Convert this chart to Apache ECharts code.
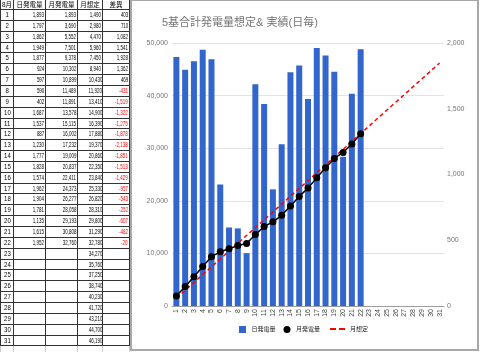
<!DOCTYPE html>
<html><head><meta charset="utf-8">
<script src="https://cdn.jsdelivr.net/npm/echarts@6/dist/echarts.min.js"></script>
<style>
html,body{margin:0;padding:0;background:#fff;}
#chart{position:absolute;left:0;top:0;width:480px;height:352px;}
#tbl{position:absolute;left:0;top:0;width:131px;height:352px;font-family:'Liberation Sans','Noto Sans CJK JP',sans-serif;}
.c{position:absolute;box-sizing:border-box;border-right:1px solid #333;border-bottom:1px solid #333;white-space:nowrap;overflow:hidden;color:#000;}
.c span{display:inline-block;}
</style></head>
<body>
<div id="chart"></div>
<div id="tbl"></div>
<script>
// ---- data ----
const dayLabels = ['1','2','3','4','5','6','7','8','9','10','11','12','13','14','15','16','17','18','19','20','21','22','23','24','25','26','27','28','29','30','31'];
const daily = [1893,1797,1862,1949,1877,924,597,590,402,1687,1537,887,1230,1777,1828,1574,1962,1904,1781,1135,1615,1952];
const cumulative = [1893,3690,5552,7501,9378,10302,10899,11489,11891,13578,15115,16002,17232,19009,20837,22411,24373,26277,28058,29193,30808,32760];
const plan = [1490,2980,4470,5960,7450,8940,10430,11920,13410,14900,16390,17880,19370,20860,22350,23840,25330,26820,28310,29800,31290,32780,34270,35760,37250,38740,40230,41720,43210,44700,46190];
const diff = [403,710,1082,1541,1928,1362,469,-431,-1519,-1322,-1275,-1878,-2138,-1851,-1513,-1429,-957,-543,-252,-607,-482,-20];
const tableHeaders = ['8月','日発電量','月発電量','月想定','差異'];
const seriesNames = ['日発電量','月発電量','月想定'];
const leftTicks = {min:0,max:50000,interval:10000};
const rightTicks = {min:0,max:2000,interval:500};
const titleText = '5基合計発電量想定& 実績(日毎)';

// ---- table ----
const colX=[0,14,46,78,103,130];
const rowTop = r => r===0 ? 0 : Math.round(10 + (r-1)*10.85);
const fmt = v => (v===undefined||v===null) ? '' : v.toLocaleString('en-US');
const tbl = document.getElementById('tbl');
let html='';
function addCell(c, r, text, opts){
  const top=rowTop(r), h=rowTop(r+1)-top;
  const left=colX[c], w=colX[c+1]-colX[c];
  let st=`left:${left}px;top:${top}px;width:${w}px;height:${h}px;line-height:${h-1}px;`;
  if(c===0) st+='border-left:1px solid #333;';
  st+= opts.style||'';
  html+=`<div class="c" style="${st}"><span style="${opts.span||''}">${text}</span></div>`;
}
const numSpan='transform:scaleX(0.56);transform-origin:100% 50%;';
const numStyle='text-align:right;padding-right:1px;font-size:8px;';
for(let c=0;c<5;c++){
  addCell(c,0,tableHeaders[c],{style:'text-align:center;font-size:6.5px;',span:''});
}
for(let i=0;i<31;i++){
  const r=i+1;
  addCell(0,r,dayLabels[i],{style:'text-align:center;font-size:8px;',span:'transform:scaleX(0.75);'});
  addCell(1,r,fmt(daily[i]),{style:numStyle,span:numSpan});
  addCell(2,r,fmt(cumulative[i]),{style:numStyle,span:numSpan});
  addCell(3,r,fmt(plan[i]),{style:numStyle,span:numSpan});
  const d=diff[i];
  addCell(4,r,fmt(d),{style:numStyle+(d<0?'color:#ff0000;':''),span:numSpan});
}
// faint gridlines below the table
{
  const top=rowTop(32);
  for(let c=0;c<5;c++){
    html+=`<div style="position:absolute;left:${colX[c]}px;top:${top}px;width:${colX[c+1]-colX[c]}px;height:${352-top}px;box-sizing:border-box;border-right:1px solid #ccc;${c===0?'border-left:1px solid #ccc;':''}"></div>`;
  }
}
tbl.innerHTML=html;

// ---- chart ----
const FF="'Liberation Sans','Noto Sans CJK JP',sans-serif";
const chart = echarts.init(document.getElementById('chart'),null,{renderer:'canvas'});
const numFmt = v => Number(v).toLocaleString('en-US');
chart.setOption({
  animation:false,
  textStyle:{fontFamily:FF},
  graphic:[{type:'rect',shape:{x:131,y:0,width:347,height:350},style:{fill:'none',stroke:'#a8a8a8',lineWidth:2},z:-1}],
  title:{text:titleText,left:162,top:17,padding:0,textStyle:{fontSize:11,fontWeight:'normal',color:'#757575',fontFamily:FF}},
  legend:[
    {left:239,top:326,padding:0,itemWidth:8,itemHeight:7,itemGap:8,symbolKeepAspect:true,
     textStyle:{fontSize:6,color:'#222',fontFamily:FF},
     data:[{name:seriesNames[0],icon:'path://M0,0H10V10H0Z'},{name:seriesNames[1],icon:'circle'}]},
    {left:330,top:326,padding:0,itemWidth:15,itemHeight:7,symbolKeepAspect:true,
     textStyle:{fontSize:6,color:'#222',fontFamily:FF},
     data:[{name:seriesNames[2],icon:'path://M0,0H6V2H0Z M9,0H15V2H9Z'}]}
  ],
  grid:{left:172,right:36,top:43,bottom:46},
  xAxis:{type:'category',data:dayLabels,
    axisTick:{show:false},
    axisLine:{lineStyle:{color:'#9e9e9e',width:1}},
    axisLabel:{rotate:90,fontSize:7,color:'#444',margin:3,interval:0}},
  yAxis:[
    {type:'value',min:leftTicks.min,max:leftTicks.max,interval:leftTicks.interval,
     axisLine:{show:false},axisTick:{show:false},
     axisLabel:{fontSize:7,color:'#757575',margin:4,formatter:numFmt},
     splitLine:{lineStyle:{color:'#e3e3e3'}}},
    {type:'value',min:rightTicks.min,max:rightTicks.max,interval:rightTicks.interval,position:'right',
     axisLine:{show:false},axisTick:{show:false},
     axisLabel:{fontSize:7,color:'#757575',margin:3,formatter:numFmt},
     splitLine:{show:false}}
  ],
  series:[
    {name:seriesNames[0],type:'bar',yAxisIndex:1,data:daily,barWidth:6,itemStyle:{color:'#3366cc'}},
    {name:seriesNames[1],type:'line',yAxisIndex:0,data:cumulative,symbol:'circle',symbolSize:7,
     lineStyle:{color:'#000',width:1.5},itemStyle:{color:'#000'}},
    {name:seriesNames[2],type:'line',yAxisIndex:0,data:plan,symbol:'none',
     lineStyle:{color:'#ff0000',width:1.5,type:[4,3]},itemStyle:{color:'#ff0000'}}
  ]
});
</script>
</body></html>
